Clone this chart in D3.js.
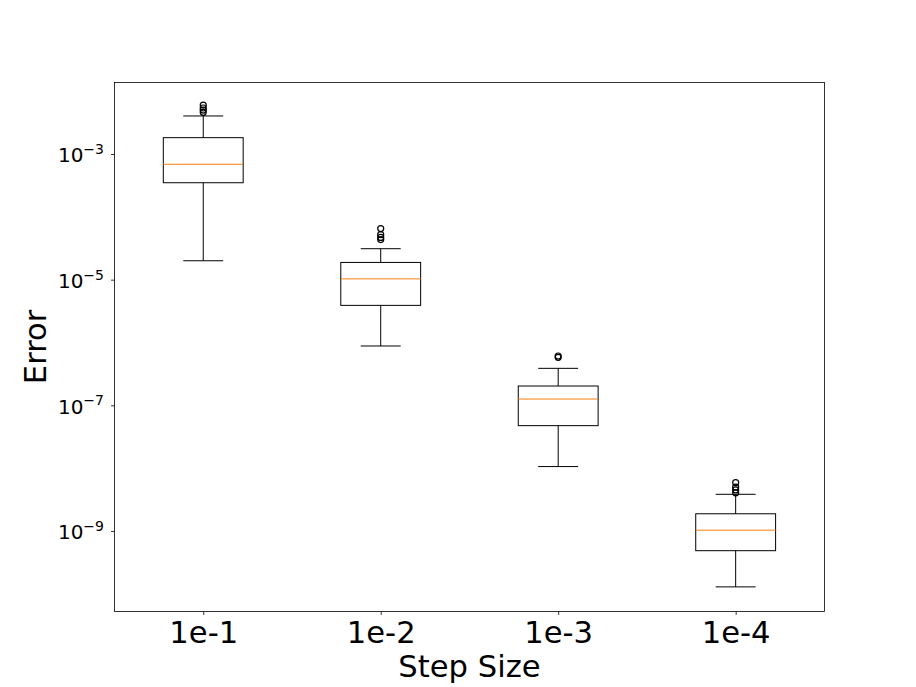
<!DOCTYPE html>
<html><head><meta charset="utf-8">
<script src="https://cdn.jsdelivr.net/npm/d3@7"></script>
<style>
html,body{margin:0;padding:0;background:#fff;}
svg{display:block;font-family:"DejaVu Sans",sans-serif;}
</style></head>
<body>
<svg id="chart" width="916" height="687"></svg>
<script>
const categories = ["1e-1", "1e-2", "1e-3", "1e-4"];
const whiskerLow  = [2.0e-5, 8.8e-7, 1.06e-8, 1.29e-10];
const q1          = [3.49e-4, 3.9e-6, 4.75e-8, 4.86e-10];
const median      = [6.86e-4, 1.03e-5, 1.26e-7, 1.03e-9];
const q3          = [1.82e-3, 1.88e-5, 2.03e-7, 1.88e-9];
const whiskerHigh = [4.03e-3, 3.11e-5, 3.88e-7, 3.84e-9];
const outliers = [
  [6.0e-3, 5.4e-3, 5.0e-3, 4.6e-3],
  [6.5e-5, 5.2e-5, 4.7e-5, 4.35e-5],
  [6.1e-7, 5.8e-7],
  [5.9e-9, 5.0e-9, 4.5e-9, 4.05e-9]
];
const yTicks = [1e-9, 1e-7, 1e-5, 1e-3];
const xLabel = "Step Size";
const yLabel = "Error";

const L = 114.5, R = 824.4, T = 82.4, B = 611.4;
const svg = d3.select("#chart");
const x = d3.scaleLinear().domain([0.5, categories.length + 0.5]).range([L, R]);
const y = d3.scaleLog().domain([Math.pow(10, -10.2796), Math.pow(10, -1.8604)]).range([B, T]);
const bw = 0.45, cw = 0.225;

// axes
const gy = svg.append("g").attr("transform", `translate(${L},0)`)
  .call(d3.axisLeft(y).tickValues(yTicks).tickSize(3.5).tickPadding(3.5).tickFormat(""));
gy.select(".domain").remove();
gy.selectAll(".tick line").attr("stroke", "#000").attr("stroke-width", 0.8);
gy.selectAll(".tick").each(function(d) {
  const e = Math.round(Math.log10(d));
  const t = d3.select(this).append("text")
    .attr("x", -10.5).attr("y", 7.7)
    .attr("text-anchor", "end").attr("fill", "#000")
    .style("font-size", "20px").style("font-family", "DejaVu Sans");
  t.append("tspan").text("10");
  t.append("tspan").attr("dy", -8.2).style("font-size", "14px").text("\u2212" + Math.abs(e));
});

const gx = svg.append("g").attr("transform", `translate(0,${B})`)
  .call(d3.axisBottom(x).tickValues(categories.map((c, i) => i + 1))
    .tickFormat((d, i) => categories[i]).tickSize(3.5).tickPadding(3.5));
gx.select(".domain").remove();
gx.selectAll(".tick line").attr("stroke", "#000").attr("stroke-width", 0.8);
gx.selectAll(".tick text").attr("y", 0).attr("dy", 0)
  .attr("transform", "translate(0,31.5)")
  .attr("fill", "#000").style("font-size", "30.6px").style("font-family", "DejaVu Sans");

// boxes
const g = svg.append("g");
categories.forEach((c, i) => {
  const cx = x(i + 1);
  const half = (x(bw) - x(0)) / 2;
  const ch = (x(cw) - x(0)) / 2;
  g.append("line").attr("x1", cx).attr("x2", cx).attr("y1", y(q3[i])).attr("y2", y(whiskerHigh[i]))
    .attr("stroke", "#000").attr("stroke-width", 1);
  g.append("line").attr("x1", cx).attr("x2", cx).attr("y1", y(q1[i])).attr("y2", y(whiskerLow[i]))
    .attr("stroke", "#000").attr("stroke-width", 1);
  [whiskerHigh[i], whiskerLow[i]].forEach(v => {
    g.append("line").attr("x1", cx - ch).attr("x2", cx + ch).attr("y1", y(v)).attr("y2", y(v))
      .attr("stroke", "#000").attr("stroke-width", 1);
  });
  g.append("rect").attr("x", cx - half).attr("width", 2 * half)
    .attr("y", y(q3[i])).attr("height", y(q1[i]) - y(q3[i]))
    .attr("fill", "none").attr("stroke", "#000").attr("stroke-width", 1);
  g.append("line").attr("x1", cx - half).attr("x2", cx + half).attr("y1", y(median[i])).attr("y2", y(median[i]))
    .attr("stroke", "#ff7f0e").attr("stroke-width", 1);
  outliers[i].forEach(v => {
    g.append("circle").attr("cx", cx).attr("cy", y(v)).attr("r", 3)
      .attr("fill", "none").attr("stroke", "#000").attr("stroke-width", 1.2);
  });
});

// frame
svg.append("rect").attr("x", L).attr("y", T).attr("width", R - L).attr("height", B - T)
  .attr("fill", "none").attr("stroke", "#000").attr("stroke-width", 0.8);

// labels
svg.append("text").attr("x", (L + R) / 2).attr("y", 676.5).attr("text-anchor", "middle")
  .attr("fill", "#000").style("font-size", "30.6px").text(xLabel);
svg.append("text").attr("transform", `translate(45.5,${(T + B) / 2}) rotate(-90)`)
  .attr("text-anchor", "middle").attr("fill", "#000").style("font-size", "30.6px").text(yLabel);
</script>
</body></html>
